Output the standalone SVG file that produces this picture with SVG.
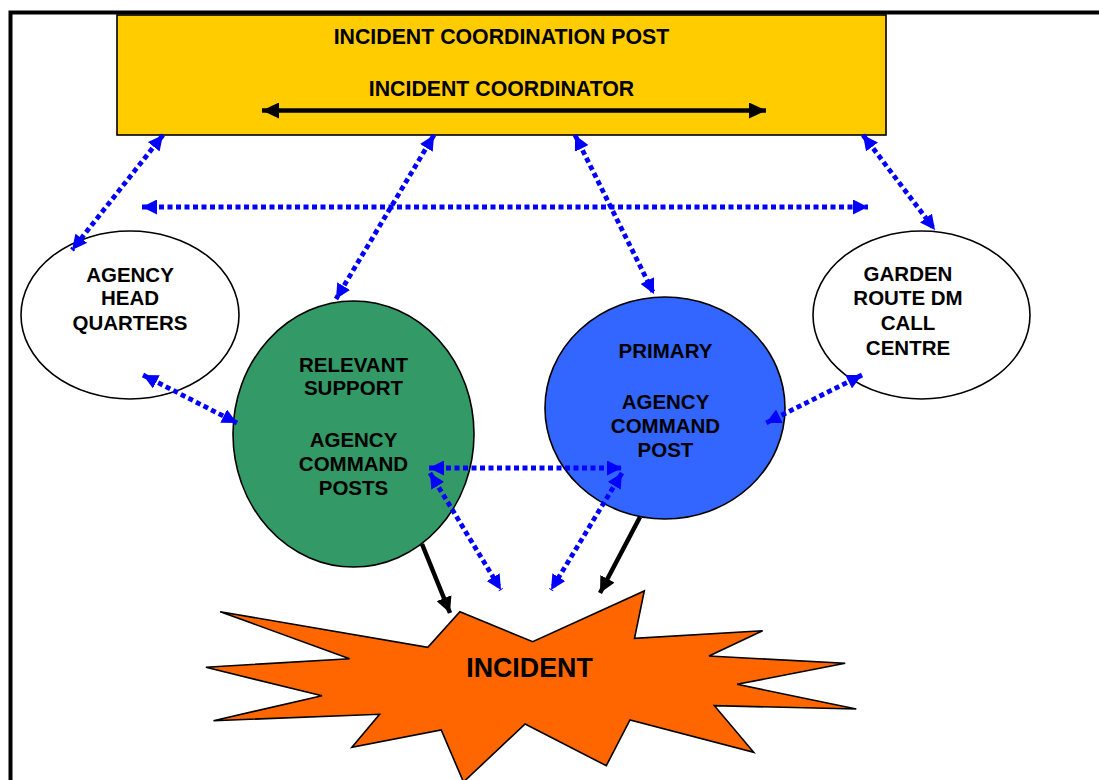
<svg xmlns="http://www.w3.org/2000/svg" width="1099" height="780" viewBox="0 0 1099 780">
<style>
text{font-family:"Liberation Sans",Arial,sans-serif;font-weight:bold;fill:#000;text-anchor:middle}
.t{font-size:21.3px}
.n{font-size:20.5px}
.node{stroke:#000;stroke-width:1.6}
.blue{stroke:#0000FF;stroke-width:4.8;stroke-dasharray:5 3.5;fill:none;marker-start:url(#bh);marker-end:url(#bh)}
.blk{stroke:#000;stroke-width:4.5;fill:none;marker-end:url(#kh)}
</style>
<defs>
<marker id="bh" markerUnits="userSpaceOnUse" markerWidth="15" markerHeight="15" viewBox="0 0 15 15" refX="15" refY="7.5" orient="auto-start-reverse"><path d="M0,0 L15,7.5 L0,15 z" fill="#0000FF"/></marker>
<marker id="kh" markerUnits="userSpaceOnUse" markerWidth="16" markerHeight="16" viewBox="0 0 16 16" refX="16" refY="8" orient="auto-start-reverse"><path d="M0,0 L16,8 L0,16 z" fill="#000"/></marker>
<marker id="kh2" markerUnits="userSpaceOnUse" markerWidth="17" markerHeight="16" viewBox="0 0 17 16" refX="17" refY="8" orient="auto-start-reverse"><path d="M0,0 L17,8 L0,16 z" fill="#000"/></marker>
</defs>
<rect width="1099" height="780" fill="#fff"/>
<rect x="10.5" y="12.5" width="1110" height="800" fill="none" stroke="#000" stroke-width="4"/>
<g id="coordination-post">
<rect class="node" x="117" y="15" width="769" height="120" fill="#FFCC00"/>
<text class="t" x="501.5" y="44">INCIDENT COORDINATION POST</text>
<text class="t" x="501.5" y="96">INCIDENT COORDINATOR</text>
<line x1="262" y1="110.5" x2="766" y2="110.5" stroke="#000" stroke-width="4.5" marker-start="url(#kh2)" marker-end="url(#kh2)"/>
</g>
<g id="agency-hq">
<ellipse class="node" cx="130" cy="315" rx="109" ry="84" fill="#fff"/>
<text class="n" x="130" y="282">AGENCY</text>
<text class="n" x="130" y="305">HEAD</text>
<text class="n" x="130" y="330">QUARTERS</text>
</g>
<g id="garden-route">
<ellipse class="node" cx="921.5" cy="315" rx="108.5" ry="84" fill="#fff"/>
<text class="n" x="908" y="281">GARDEN</text>
<text class="n" x="908" y="305">ROUTE DM</text>
<text class="n" x="908" y="330">CALL</text>
<text class="n" x="908" y="355">CENTRE</text>
</g>
<g id="support-posts">
<ellipse class="node" cx="353.5" cy="434" rx="120.5" ry="133" fill="#339966"/>
<text class="n" x="353.5" y="372">RELEVANT</text>
<text class="n" x="353.5" y="395">SUPPORT</text>
<text class="n" x="353.5" y="447">AGENCY</text>
<text class="n" x="353.5" y="471">COMMAND</text>
<text class="n" x="353.5" y="495">POSTS</text>
</g>
<g id="primary-post">
<ellipse class="node" cx="665" cy="408" rx="120" ry="111" fill="#3366FF"/>
<text class="n" x="665.5" y="358">PRIMARY</text>
<text class="n" x="665.5" y="409">AGENCY</text>
<text class="n" x="665.5" y="433">COMMAND</text>
<text class="n" x="665.5" y="457">POST</text>
</g>
<g id="incident">
<path class="node" stroke-width="2" fill="#FF6600" d="M220.2,611.7 L427.8,647.3 L459.9,611.7 L532.7,641.7 L644.3,591 L634.5,638.3 L762.6,630.7 L709,656 L845.2,663.3 L737.1,684.3 L856.3,709 L714.4,705.7 L753.7,752.3 L630,720 L606.3,765.7 L525.1,724 L463.5,782 L441.2,730 L351.9,747.3 L379.6,714.3 L213.5,720.7 L322,695.7 L205.9,667.3 L349.6,658.7 Z"/>
<text x="529.5" y="677" font-size="26.8">INCIDENT</text>
</g>
<g id="connectors">
<line class="blue" x1="163" y1="135" x2="72" y2="250"/>
<line class="blue" x1="434" y1="135" x2="336" y2="299"/>
<line class="blue" x1="575" y1="135" x2="654" y2="294"/>
<line class="blue" x1="863" y1="135" x2="935" y2="230"/>
<line class="blue" x1="142" y1="207" x2="868" y2="207"/>
<line class="blue" x1="143" y1="375" x2="237" y2="423"/>
<line class="blue" x1="862" y1="375" x2="766" y2="423"/>
<line class="blue" x1="429" y1="468" x2="622" y2="468"/>
<line class="blue" x1="430" y1="473" x2="501" y2="590"/>
<line class="blue" x1="622" y1="473" x2="551" y2="590"/>
<line class="blk" x1="422" y1="544" x2="450" y2="613"/>
<line class="blk" x1="640" y1="517" x2="600" y2="593"/>
</g>
</svg>
